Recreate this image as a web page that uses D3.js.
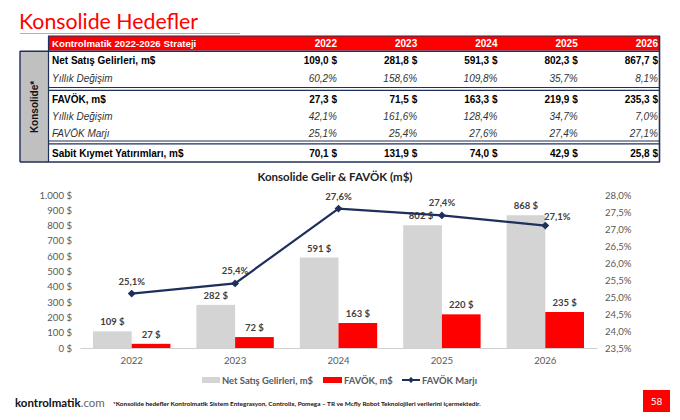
<!DOCTYPE html>
<html><head><meta charset="utf-8">
<script src="https://cdn.jsdelivr.net/npm/d3@7"></script>
<style>
html,body{margin:0;padding:0;background:#fff;}
svg{display:block;}
</style></head>
<body>
<svg id="c" width="680" height="420"></svg>
<script>
// ---------- data ----------
const years = ["2022", "2023", "2024", "2025", "2026"];
const revenue = [109.0, 281.8, 591.3, 802.3, 867.7];
const revenueGrowth = [60.2, 158.6, 109.8, 35.7, 8.1];
const ebitda = [27.3, 71.5, 163.3, 219.9, 235.3];
const ebitdaGrowth = [42.1, 161.6, 128.4, 34.7, 7.0];
const ebitdaMargin = [25.1, 25.4, 27.6, 27.4, 27.1];
const capex = [70.1, 131.9, 74.0, 42.9, 25.8];
const leftTicks = [0, 100, 200, 300, 400, 500, 600, 700, 800, 900, 1000];
const rightTicks = [23.5, 24.0, 24.5, 25.0, 25.5, 26.0, 26.5, 27.0, 27.5, 28.0];
const seriesNames = ["Net Satış Gelirleri, m$", "FAVÖK, m$", "FAVÖK Marjı"];

// ---------- styles ----------
const RED = "#ff0000", NAVY = "#1f2f5c", GRAY_BAR = "#d4d4d4", AX = "#595959";
const TF = "'Liberation Sans', Arial, sans-serif";
const CF = "Lato, 'Open Sans', sans-serif";

const tr = d3.formatLocale({decimal: ",", thousands: ".", grouping: [3], currency: ["", " $"]});
const f1 = tr.format(",.1f"), f0 = tr.format(",.0f");

const svg = d3.select("#c");

// ---------- title ----------
svg.append("text").attr("x", 19).attr("y", 29).attr("fill", RED)
  .style("font-family", CF).style("font-size", "21.3px").text("Konsolide Hedefler");
svg.append("line").attr("x1", 20).attr("x2", 240).attr("y1", 33.5).attr("y2", 33.5)
  .attr("stroke", "#b0b0b0").attr("stroke-width", 1);

// ---------- table ----------
const colRight = d3.scalePoint().domain(years).range([337, 658]);
const T = svg.append("g");
T.append("rect").attr("x", 48).attr("y", 36).attr("width", 611).attr("height", 14.5).attr("fill", RED);
T.append("text").attr("x", 52).attr("y", 47).attr("fill", "#fff")
  .style("font-family", TF).style("font-weight", "bold").style("font-size", "9.7px")
  .text("Kontrolmatik 2022-2026 Strateji");
T.selectAll("text.hy").data(years).join("text").attr("class", "hy")
  .attr("x", d => colRight(d)).attr("y", 47).attr("text-anchor", "end").attr("fill", "#fff")
  .style("font-family", TF).style("font-weight", "bold").style("font-size", "10px").text(d => d);

// gray side column
T.append("rect").attr("x", 20).attr("y", 51).attr("width", 28).attr("height", 111).attr("fill", "#c0c0c0");
T.append("text").attr("transform", "translate(37.5,107) rotate(-90)").attr("text-anchor", "middle")
  .style("font-family", TF).style("font-weight", "bold").style("font-size", "10px").attr("fill", "#111")
  .text("Konsolide*");

const rows = [
  {label: "Net Satış Gelirleri, m$", vals: revenue, kind: "money", y: 64},
  {label: "Yıllık Değişim", vals: revenueGrowth, kind: "pct", y: 82},
  {label: "FAVÖK, m$", vals: ebitda, kind: "money", y: 103},
  {label: "Yıllık Değişim", vals: ebitdaGrowth, kind: "pct", y: 119.5},
  {label: "FAVÖK Marjı", vals: ebitdaMargin, kind: "pct", y: 137},
  {label: "Sabit Kıymet Yatırımları, m$", vals: capex, kind: "money", y: 157}
];
rows.forEach(r => {
  const bold = r.kind === "money";
  T.append("text").attr("x", 52).attr("y", r.y).attr("fill", bold ? "#000" : "#333")
    .style("font-family", TF).style("font-size", "10px")
    .style("font-weight", bold ? "bold" : "normal").style("font-style", bold ? "normal" : "italic")
    .text(r.label);
  T.selectAll(null).data(r.vals).join("text")
    .attr("x", (d, i) => colRight(years[i])).attr("y", r.y).attr("text-anchor", "end")
    .attr("fill", bold ? "#000" : "#333")
    .style("font-family", TF).style("font-size", "10px")
    .style("font-weight", bold ? "bold" : "normal").style("font-style", bold ? "normal" : "italic")
    .text(d => bold ? f1(d) + " $" : f1(d) + "%");
});
const hl = (x1, x2, y, w) => T.append("line").attr("x1", x1).attr("x2", x2).attr("y1", y).attr("y2", y)
  .attr("stroke", NAVY).attr("stroke-width", w);
const vl = (x, y1, y2, w) => T.append("line").attr("x1", x).attr("x2", x).attr("y1", y1).attr("y2", y2)
  .attr("stroke", NAVY).attr("stroke-width", w);
hl(20, 660, 51.2, 1.6);
hl(48, 660, 87.5, 1.2); hl(48, 660, 90.3, 1.2);
hl(48, 660, 141, 1.2); hl(48, 660, 143.8, 1.2);
hl(20, 660, 162, 1.6);
vl(20, 51, 162, 1.4); vl(48.5, 36, 162, 1.2); vl(659.5, 36, 162, 1.6);
hl(48, 660, 36, 1);

// ---------- chart ----------
const x = d3.scaleBand().domain(years).range([80, 597]);
const x1 = d3.scaleBand().domain(["rev", "ebitda"]).range([13, x.bandwidth() - 13]);
const yL = d3.scaleLinear().domain([0, 1000]).range([348, 195]);
const yR = d3.scaleLinear().domain([23.5, 28.0]).range([348, 195]);
const C = svg.append("g");

C.append("text").attr("x", 335).attr("y", 180.5).attr("text-anchor", "middle").attr("fill", "#222")
  .style("font-family", CF).style("font-weight", "bold").style("font-size", "11.5px")
  .text("Konsolide Gelir & FAVÖK (m$)");

const axL = C.append("g").attr("transform", "translate(80,0)")
  .call(d3.axisLeft(yL).tickValues(leftTicks).tickSize(0).tickPadding(8).tickFormat(d => f0(d) + " $"));
const axR = C.append("g").attr("transform", "translate(597,0)")
  .call(d3.axisRight(yR).tickValues(rightTicks).tickSize(0).tickPadding(8).tickFormat(d => f1(d) + "%"));
const axB = C.append("g").attr("transform", "translate(0,348)")
  .call(d3.axisBottom(x).tickSize(0).tickPadding(9));
[axL, axR].forEach(a => a.select(".domain").remove());
axB.select(".domain").attr("stroke", "#d0d0d0").attr("stroke-width", 1.2);
[axL, axR, axB].forEach(a => a.selectAll("text").attr("fill", AX)
  .style("font-family", CF).style("font-size", "9.6px"));

// bars
C.selectAll("rect.rev").data(revenue).join("rect").attr("class", "rev")
  .attr("x", (d, i) => x(years[i]) + x1("rev")).attr("width", x1.bandwidth())
  .attr("y", d => yL(d)).attr("height", d => yL(0) - yL(d)).attr("fill", GRAY_BAR);
C.selectAll("rect.eb").data(ebitda).join("rect").attr("class", "eb")
  .attr("x", (d, i) => x(years[i]) + x1("ebitda")).attr("width", x1.bandwidth())
  .attr("y", d => yL(d)).attr("height", d => yL(0) - yL(d)).attr("fill", RED);

const lbl = sel => sel.attr("text-anchor", "middle").attr("fill", "#404040")
  .style("font-family", CF).style("font-weight", "bold").style("font-size", "9.5px");
C.selectAll("text.rl").data(revenue).join("text").attr("class", "rl")
  .attr("x", (d, i) => x(years[i]) + x1("rev") + x1.bandwidth() / 2 - (i === 3 ? 1.5 : 0)).attr("y", d => yL(d) - 6)
  .text(d => f0(d) + " $").call(lbl);
C.selectAll("text.el").data(ebitda).join("text").attr("class", "el")
  .attr("x", (d, i) => x(years[i]) + x1("ebitda") + x1.bandwidth() / 2).attr("y", d => yL(d) - 6)
  .text(d => f0(d) + " $").call(lbl);

// line
const cx = i => x(years[i]) + x.bandwidth() / 2;
C.append("path").datum(ebitdaMargin)
  .attr("d", d3.line().x((d, i) => cx(i)).y(d => yR(d)))
  .attr("fill", "none").attr("stroke", NAVY).attr("stroke-width", 2.2);
C.selectAll("path.mk").data(ebitdaMargin).join("path").attr("class", "mk")
  .attr("transform", (d, i) => `translate(${cx(i)},${yR(d)})`)
  .attr("d", d3.symbol(d3.symbolDiamond2, 40)).attr("fill", NAVY);
C.selectAll("text.ml").data(ebitdaMargin).join("text").attr("class", "ml")
  .attr("x", (d, i) => cx(i) + (i === 4 ? 12 : 0)).attr("y", (d, i) => yR(d) - (i === 4 ? 6 : 9))
  .text(d => f1(d) + "%").call(lbl);

// legend
const L = C.append("g").attr("transform", "translate(0,380)");
L.append("rect").attr("x", 202).attr("y", -3).attr("width", 18).attr("height", 6).attr("fill", GRAY_BAR);
L.append("rect").attr("x", 323).attr("y", -3).attr("width", 19).attr("height", 6).attr("fill", RED);
L.append("line").attr("x1", 402).attr("x2", 420).attr("y1", 0).attr("y2", 0).attr("stroke", NAVY).attr("stroke-width", 2);
L.append("path").attr("transform", "translate(411,0)").attr("d", d3.symbol(d3.symbolDiamond2, 22)).attr("fill", NAVY);
L.selectAll("text").data(seriesNames).join("text")
  .attr("x", (d, i) => [222, 344, 422][i]).attr("y", 3.5).attr("fill", AX)
  .style("font-family", CF).style("font-weight", "bold").style("font-size", "9.4px").text(d => d);

// footer
const F = svg.append("g");
const ft = F.append("text").attr("x", 15).attr("y", 407).style("font-family", CF).style("font-size", "11.5px");
ft.append("tspan").attr("fill", "#111").style("font-weight", "bold").text("kontrolmatik");
ft.append("tspan").attr("fill", "#666").text(".com");
F.append("text").attr("x", 113).attr("y", 405.5).attr("fill", "#111")
  .style("font-family", CF).style("font-weight", "bold").style("font-size", "6.4px")
  .text("*Konsolide hedefler Kontrolmatik  Sistem Entegrasyon, Controlix, Pomega – TR ve Mcfly Robot Teknolojileri verilerini içermektedir.");
F.append("rect").attr("x", 643).attr("y", 390).attr("width", 27).attr("height", 22).attr("fill", RED);
F.append("text").attr("x", 656.5).attr("y", 404.5).attr("text-anchor", "middle").attr("fill", "#fff")
  .style("font-family", CF).style("font-size", "10px").text("58");
</script>
</body></html>
